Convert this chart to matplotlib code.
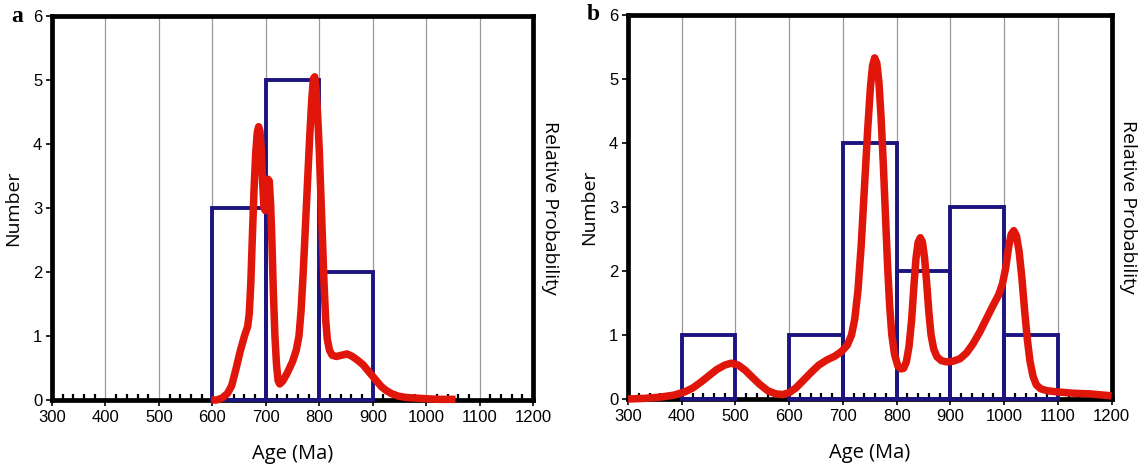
import numpy as np
import matplotlib.pyplot as plt
from matplotlib.ticker import MultipleLocator

# histogram bins (left edge, 100 Ma wide) and counts
a_bins = [600, 700, 800]
a_counts = [3, 5, 2]
b_bins = [400, 600, 700, 800, 900, 1000]
b_counts = [1, 1, 4, 2, 3, 1]

# relative probability curves (in "Number" units)
a_age = [598, 608, 618, 628, 636, 644, 652, 660, 666, 669, 672, 675, 678, 681, 684, 686.5,
         689, 691.5, 694, 696.5, 699, 701.5, 704, 706.5, 709, 711.5, 714, 717, 720, 723, 726,
         732, 740, 750, 757, 762, 766, 770, 774, 778, 782, 786, 789, 791.5, 794, 797, 800,
         803, 806, 809, 812, 815, 819, 824, 832, 842, 852, 862, 872, 882, 892, 900, 908, 916,
         925, 935, 948, 962, 980, 1000, 1025, 1055]
a_prob = [0.0, 0.0, 0.03, 0.1, 0.22, 0.48, 0.76, 1.0, 1.15, 1.35, 1.85, 2.6, 3.3, 3.85, 4.18, 4.27,
          4.2, 3.9, 3.4, 3.0, 2.96, 3.2, 3.45, 3.42, 3.05, 2.45, 1.7, 1.0, 0.55, 0.3, 0.25,
          0.3, 0.42, 0.6, 0.78, 1.0, 1.4, 2.0, 2.7, 3.4, 4.1, 4.7, 5.02, 5.05, 4.85, 4.45, 3.9,
          3.2, 2.5, 1.8, 1.25, 0.95, 0.78, 0.7, 0.68, 0.7, 0.72, 0.68, 0.62, 0.55, 0.45, 0.37, 0.29, 0.21,
          0.15, 0.1, 0.06, 0.04, 0.03, 0.02, 0.01, 0.01]

b_age = [300, 330, 360, 385, 405, 420, 435, 450, 465, 480, 492, 505, 518, 530, 545, 560, 575,
         588, 600, 612, 625, 640, 655, 670, 685, 697, 708, 716, 722, 728, 734, 740, 746, 751,
         755, 759, 763, 767, 771, 775, 779, 783, 787, 791, 796, 802, 808, 813, 818, 823, 828,
         832, 836, 840, 844, 848, 852, 856, 860, 864, 869, 875, 883, 893, 905, 918, 930, 942,
         955, 968, 980, 990, 997, 1003, 1008, 1013, 1018, 1023, 1028, 1033, 1038, 1043, 1048,
         1054, 1060, 1068, 1080, 1100, 1130, 1160, 1200]
b_prob = [0.0, 0.01, 0.03, 0.06, 0.11, 0.17, 0.26, 0.36, 0.46, 0.53, 0.56, 0.53, 0.45, 0.35, 0.23, 0.13, 0.08,
          0.07, 0.1, 0.17, 0.28, 0.41, 0.53, 0.61, 0.67, 0.74, 0.84, 1.0, 1.25, 1.7, 2.4, 3.3, 4.2, 4.85,
          5.2, 5.33, 5.25, 4.95, 4.4, 3.7, 2.9, 2.1, 1.45, 1.0, 0.7, 0.52, 0.47, 0.48, 0.58, 0.82, 1.25,
          1.75, 2.2, 2.45, 2.52, 2.45, 2.2, 1.8, 1.35, 1.0, 0.78, 0.66, 0.6, 0.58, 0.59, 0.63, 0.72, 0.86,
          1.05, 1.27, 1.47, 1.63, 1.8, 2.05, 2.35, 2.57, 2.63, 2.55, 2.3, 1.9, 1.4, 0.95, 0.6,
          0.35, 0.22, 0.16, 0.13, 0.11, 0.09, 0.08, 0.05]

NAVY = '#1c1480'
RED = '#e0160a'
LABEL_FONT = 'Open Sans'
TICK_FONT = 'Liberation Sans'


def draw_panel(ax, bins, counts, age, prob, letter):
    ax.bar(bins, counts, width=100, align='edge', fill=False, edgecolor=NAVY,
           linewidth=2.8, zorder=2.6, clip_on=False)
    ax.plot(age, prob, color=RED, linewidth=5.4, solid_capstyle='butt',
            solid_joinstyle='round', zorder=4, clip_on=False)

    ax.set_xlim(300, 1200)
    ax.set_ylim(0, 6)
    ax.xaxis.set_major_locator(MultipleLocator(100))
    ax.xaxis.set_minor_locator(MultipleLocator(20))
    ax.yaxis.set_major_locator(MultipleLocator(1))
    ax.grid(axis='x', color='#999999', linewidth=0.9)
    ax.set_axisbelow(True)
    for s in ax.spines.values():
        s.set_linewidth(3.4)
        s.set_color('black')
    ax.tick_params(axis='both', which='major', direction='out', length=4, width=1.2,
                   labelsize=12, pad=3)
    ax.tick_params(axis='x', which='minor', direction='in', length=4, width=1.6)
    for lab in ax.get_xticklabels() + ax.get_yticklabels():
        lab.set_fontfamily(TICK_FONT)

    ax.set_xlabel('Age (Ma)', fontsize=14.5, fontfamily=LABEL_FONT, labelpad=14)
    ax.set_ylabel('Number', fontsize=14, fontfamily=LABEL_FONT, labelpad=8)
    ax.text(1.016, 0.5, 'Relative Probability', transform=ax.transAxes, rotation=-90,
            ha='left', va='center', fontsize=14, fontfamily=LABEL_FONT)
    ax.text(-0.085, 1.0, letter, transform=ax.transAxes, ha='left', va='center',
            fontsize=17, fontweight='bold', fontfamily='Liberation Serif')


fig = plt.figure(figsize=(11.39, 4.68), dpi=100)
ax_a = fig.add_axes([0.0457, 0.1453, 0.4223, 0.8205])
ax_b = fig.add_axes([0.5514, 0.1474, 0.4245, 0.8206])

draw_panel(ax_a, a_bins, a_counts, a_age, a_prob, 'a')
draw_panel(ax_b, b_bins, b_counts, b_age, b_prob, 'b')

fig.savefig('out.png', dpi=100)
